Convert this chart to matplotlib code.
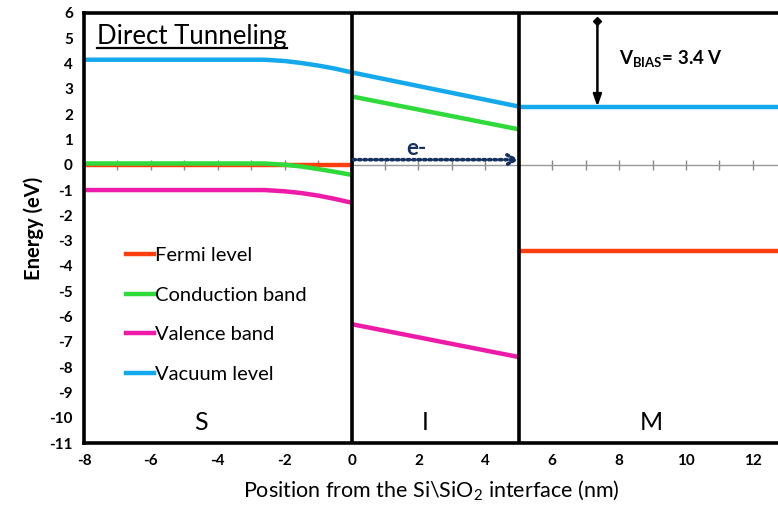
import matplotlib.pyplot as plt
from matplotlib.lines import Line2D

plt.rcParams['font.family'] = ['Lato', 'DejaVu Sans']
plt.rcParams['axes.unicode_minus'] = False

# semiconductor side (Si), band bending toward the interface
x_si = [-8, -2.6, -2.0, -1.5, -1.0, -0.5, 0]
vac_si = [4.15, 4.15, 4.10, 4.02, 3.92, 3.80, 3.65]
cb_si = [0.05, 0.05, 0.00, -0.07, -0.17, -0.28, -0.40]
vb_si = [-1.0, -1.0, -1.05, -1.12, -1.22, -1.35, -1.50]
fermi_si = [0, 0, 0, 0, 0, 0, 0]

# oxide (SiO2)
x_ox = [0, 5]
vac_ox = [3.65, 2.30]
cb_ox = [2.70, 1.40]
vb_ox = [-6.30, -7.60]

# metal
x_m = [5, 12.75]
vac_m = [2.30, 2.30]
fermi_m = [-3.40, -3.40]

v_bias = 3.4
regions = ['S', 'I', 'M']
region_x = [-4.5, 2.2, 8.95]
interfaces = [0, 5]

c_fermi = '#FF3F0F'
c_cb = '#2EDB3A'
c_vb = '#EE1AA8'
c_vac = '#14A9EC'
lw = 3.2

fig = plt.figure(figsize=(7.78, 5.17), dpi=100)
ax = fig.add_axes([0.108, 0.143, 0.892, 0.832])

ax.plot(x_si, fermi_si, color=c_fermi, lw=lw, solid_capstyle='butt')
ax.plot(x_m, fermi_m, color=c_fermi, lw=lw, solid_capstyle='butt')
ax.plot(x_si, cb_si, color=c_cb, lw=lw, solid_capstyle='butt')
ax.plot(x_ox, cb_ox, color=c_cb, lw=lw, solid_capstyle='butt')
ax.plot(x_si, vb_si, color=c_vb, lw=lw, solid_capstyle='butt')
ax.plot(x_ox, vb_ox, color=c_vb, lw=lw, solid_capstyle='butt')
ax.plot(x_si, vac_si, color=c_vac, lw=lw, solid_capstyle='butt')
ax.plot(x_ox, vac_ox, color=c_vac, lw=lw, solid_capstyle='butt')
ax.plot(x_m, vac_m, color=c_vac, lw=lw, solid_capstyle='butt')

for xi in interfaces:
    ax.axvline(xi, color='black', lw=2.6, zorder=5)

ax.set_xlim(-8, 12.75)
ax.set_ylim(-11, 6)
ax.set_xticks(range(-8, 13, 2))
ax.set_yticks(range(-11, 7))
ax.tick_params(axis='both', length=0, labelsize=11, pad=8)
for lab in ax.get_xticklabels() + ax.get_yticklabels():
    lab.set_fontweight('bold')
for side in ['left', 'top', 'bottom']:
    ax.spines[side].set_linewidth(2.6)
ax.spines['right'].set_visible(False)

# zero line with small ticks every 1 nm
zero_axis = ax.secondary_xaxis(11 / 17)
zero_axis.set_xticks(range(-8, 13))
zero_axis.tick_params(direction='inout', length=7, width=1, color='#888888', labelbottom=False, labeltop=False)
zero_axis.spines['bottom'].set_color('#999999')
zero_axis.spines['top'].set_color('#999999')
zero_axis.spines['bottom'].set_linewidth(1)
zero_axis.spines['top'].set_linewidth(1)

ax.set_xlabel(r'Position from the Si\SiO$_\mathregular{2}$ interface (nm)', fontsize=15.5, labelpad=8)
ax.set_ylabel('Energy (eV)', fontsize=14.5, fontweight='bold', labelpad=4)

# electron tunneling through the oxide
ax.annotate('', xy=(5, 0.2), xytext=(0.05, 0.2),
            arrowprops=dict(arrowstyle='->,head_length=0.6,head_width=0.35', color='#16305F',
                            lw=2.6, linestyle=(0, (0.6, 0.9)), shrinkA=0, shrinkB=0), zorder=6)
ax.text(1.95, 0.65, 'e-', color='#16305F', fontsize=16, fontweight='bold', ha='center', va='center')

# bias arrow
ax.annotate('', xy=(7.35, vac_m[0]), xytext=(7.35, vac_m[0] + v_bias),
            arrowprops=dict(arrowstyle='-|>,head_length=0.7,head_width=0.25', color='black',
                            lw=1.8, shrinkA=0, shrinkB=0))
ax.plot([7.35], [vac_m[0] + v_bias], marker='D', color='black', ms=4.5)
ax.text(8.0, 4.15, r'V$_{\mathregular{BIAS}}$= 3.4 V', fontsize=13.5, fontweight='bold',
        ha='left', va='center')

for lab, xr in zip(regions, region_x):
    ax.text(xr, -10.2, lab, fontsize=18, ha='center', va='center')

title = ax.text(-7.6, 5.05, 'Direct Tunneling', fontsize=18.5, ha='left', va='center')
fig.canvas.draw()
bb = title.get_window_extent().transformed(ax.transData.inverted())
ax.plot([bb.x0, bb.x1], [bb.y0 + 0.05, bb.y0 + 0.05], color='black', lw=1.6)

handles = [Line2D([], [], color=c, lw=lw) for c in [c_fermi, c_cb, c_vb, c_vac]]
names = ['Fermi level', 'Conduction band', 'Valence band', 'Vacuum level']
ax.legend(handles, names, loc='upper left', bbox_to_anchor=(0.035, 0.498), frameon=False,
          fontsize=14.5, handlelength=1.35, handletextpad=0.05, labelspacing=1.12)

fig.savefig('out.png', dpi=100)
